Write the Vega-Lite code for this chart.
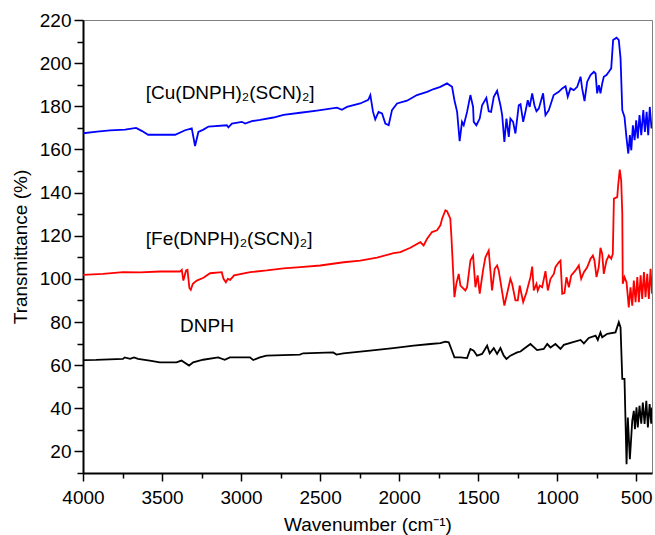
{
  "$schema": "https://vega.github.io/schema/vega-lite/v6.json",
  "width": 569,
  "height": 453,
  "autosize": {"type": "none"},
  "padding": {"left": 83, "top": 20, "right": 3, "bottom": 62},
  "background": "white",
  "config": {"view": {"stroke": "#808080", "strokeWidth": 1}, "font": "Liberation Sans"},
  "datasets": {
    "spectra": [
      {"s":"Cu","wn":4000,"t":167.5},{"s":"Cu","wn":3911,"t":168.3},{"s":"Cu","wn":3829,"t":168.8},{"s":"Cu","wn":3734,"t":169.2},{"s":"Cu","wn":3664,"t":170},{"s":"Cu","wn":3626,"t":168.5},{"s":"Cu","wn":3588,"t":166.8},{"s":"Cu","wn":3417,"t":166.8},{"s":"Cu","wn":3354,"t":168.9},{"s":"Cu","wn":3312,"t":169.8},{"s":"Cu","wn":3291,"t":161.6},{"s":"Cu","wn":3270,"t":168.1},{"s":"Cu","wn":3238,"t":169.2},{"s":"Cu","wn":3206,"t":170.6},{"s":"Cu","wn":3090,"t":171.2},{"s":"Cu","wn":3080,"t":170.2},{"s":"Cu","wn":3058,"t":172},{"s":"Cu","wn":2995,"t":172.8},{"s":"Cu","wn":2974,"t":172},{"s":"Cu","wn":2932,"t":173.1},{"s":"Cu","wn":2879,"t":173.7},{"s":"Cu","wn":2795,"t":174.8},{"s":"Cu","wn":2731,"t":176},{"s":"Cu","wn":2626,"t":177},{"s":"Cu","wn":2520,"t":178},{"s":"Cu","wn":2393,"t":179.4},{"s":"Cu","wn":2362,"t":178.4},{"s":"Cu","wn":2330,"t":179.7},{"s":"Cu","wn":2246,"t":181.3},{"s":"Cu","wn":2195,"t":183},{"s":"Cu","wn":2182,"t":185.2},{"s":"Cu","wn":2165,"t":177.4},{"s":"Cu","wn":2151,"t":173.9},{"s":"Cu","wn":2130,"t":177.4},{"s":"Cu","wn":2108,"t":176.7},{"s":"Cu","wn":2087,"t":172},{"s":"Cu","wn":2066,"t":171.2},{"s":"Cu","wn":2045,"t":178.2},{"s":"Cu","wn":2013,"t":181.3},{"s":"Cu","wn":1950,"t":182.6},{"s":"Cu","wn":1887,"t":185.2},{"s":"Cu","wn":1823,"t":186.7},{"s":"Cu","wn":1781,"t":188},{"s":"Cu","wn":1739,"t":189},{"s":"Cu","wn":1697,"t":190.6},{"s":"Cu","wn":1665,"t":189},{"s":"Cu","wn":1650,"t":182.8},{"s":"Cu","wn":1633,"t":177.4},{"s":"Cu","wn":1617,"t":163.8},{"s":"Cu","wn":1602,"t":172.8},{"s":"Cu","wn":1591,"t":171.2},{"s":"Cu","wn":1570,"t":177.4},{"s":"Cu","wn":1549,"t":185.2},{"s":"Cu","wn":1532,"t":179.7},{"s":"Cu","wn":1528,"t":172.8},{"s":"Cu","wn":1511,"t":171.2},{"s":"Cu","wn":1490,"t":174.3},{"s":"Cu","wn":1475,"t":180.5},{"s":"Cu","wn":1448,"t":183.9},{"s":"Cu","wn":1433,"t":177.7},{"s":"Cu","wn":1418,"t":177.4},{"s":"Cu","wn":1401,"t":184.4},{"s":"Cu","wn":1380,"t":187.2},{"s":"Cu","wn":1359,"t":180.5},{"s":"Cu","wn":1348,"t":175.9},{"s":"Cu","wn":1334,"t":163.5},{"s":"Cu","wn":1321,"t":174.3},{"s":"Cu","wn":1306,"t":165.8},{"s":"Cu","wn":1296,"t":174.3},{"s":"Cu","wn":1279,"t":172.8},{"s":"Cu","wn":1264,"t":167.4},{"s":"Cu","wn":1243,"t":180.5},{"s":"Cu","wn":1232,"t":181},{"s":"Cu","wn":1215,"t":172.8},{"s":"Cu","wn":1201,"t":177.4},{"s":"Cu","wn":1186,"t":182.8},{"s":"Cu","wn":1174,"t":179.7},{"s":"Cu","wn":1158,"t":186},{"s":"Cu","wn":1144,"t":180.5},{"s":"Cu","wn":1131,"t":177.7},{"s":"Cu","wn":1116,"t":179},{"s":"Cu","wn":1089,"t":186},{"s":"Cu","wn":1074,"t":175.9},{"s":"Cu","wn":1053,"t":178.2},{"s":"Cu","wn":1022,"t":185.2},{"s":"Cu","wn":990,"t":186.7},{"s":"Cu","wn":968,"t":188.3},{"s":"Cu","wn":947,"t":189.3},{"s":"Cu","wn":933,"t":184.4},{"s":"Cu","wn":916,"t":188.3},{"s":"Cu","wn":895,"t":187.5},{"s":"Cu","wn":873,"t":189},{"s":"Cu","wn":852,"t":193.7},{"s":"Cu","wn":842,"t":188.3},{"s":"Cu","wn":827,"t":182.4},{"s":"Cu","wn":810,"t":191.4},{"s":"Cu","wn":789,"t":194.5},{"s":"Cu","wn":768,"t":196},{"s":"Cu","wn":757,"t":195.2},{"s":"Cu","wn":747,"t":186},{"s":"Cu","wn":736,"t":189.8},{"s":"Cu","wn":726,"t":186},{"s":"Cu","wn":715,"t":190.6},{"s":"Cu","wn":705,"t":193.7},{"s":"Cu","wn":688,"t":194.5},{"s":"Cu","wn":673,"t":196},{"s":"Cu","wn":658,"t":197.6},{"s":"Cu","wn":646,"t":210.7},{"s":"Cu","wn":624,"t":211.8},{"s":"Cu","wn":610,"t":210.7},{"s":"Cu","wn":599,"t":202.2},{"s":"Cu","wn":588,"t":178.2},{"s":"Cu","wn":574,"t":175.1},{"s":"Cu","wn":561,"t":165.1},{"s":"Cu","wn":550,"t":158.1},{"s":"Cu","wn":540,"t":166.6},{"s":"Cu","wn":531,"t":159.6},{"s":"Cu","wn":521,"t":171.2},{"s":"Cu","wn":510,"t":164.3},{"s":"Cu","wn":500,"t":173.5},{"s":"Cu","wn":490,"t":165.1},{"s":"Cu","wn":479,"t":175.9},{"s":"Cu","wn":468,"t":166.6},{"s":"Cu","wn":455,"t":178.2},{"s":"Cu","wn":445,"t":168.1},{"s":"Cu","wn":434,"t":177.4},{"s":"Cu","wn":424,"t":166.6},{"s":"Cu","wn":414,"t":179.7},{"s":"Cu","wn":403,"t":169.7},{"s":"Cu","wn":400,"t":172},
      {"s":"Fe","wn":4000,"t":101.8},{"s":"Fe","wn":3873,"t":102.3},{"s":"Fe","wn":3747,"t":103.1},{"s":"Fe","wn":3639,"t":103},{"s":"Fe","wn":3512,"t":103.4},{"s":"Fe","wn":3386,"t":103.4},{"s":"Fe","wn":3375,"t":104.2},{"s":"Fe","wn":3365,"t":99.2},{"s":"Fe","wn":3348,"t":103.9},{"s":"Fe","wn":3339,"t":104.2},{"s":"Fe","wn":3327,"t":95.8},{"s":"Fe","wn":3318,"t":94.9},{"s":"Fe","wn":3305,"t":97.7},{"s":"Fe","wn":3280,"t":99.2},{"s":"Fe","wn":3238,"t":100.5},{"s":"Fe","wn":3196,"t":102.6},{"s":"Fe","wn":3122,"t":103.1},{"s":"Fe","wn":3111,"t":100},{"s":"Fe","wn":3096,"t":98.4},{"s":"Fe","wn":3084,"t":100},{"s":"Fe","wn":3069,"t":99.5},{"s":"Fe","wn":3044,"t":101.6},{"s":"Fe","wn":2942,"t":103.1},{"s":"Fe","wn":2837,"t":103.9},{"s":"Fe","wn":2731,"t":104.9},{"s":"Fe","wn":2626,"t":105.4},{"s":"Fe","wn":2499,"t":106.2},{"s":"Fe","wn":2351,"t":107.7},{"s":"Fe","wn":2246,"t":108.5},{"s":"Fe","wn":2140,"t":109.8},{"s":"Fe","wn":2035,"t":111.9},{"s":"Fe","wn":1992,"t":112.4},{"s":"Fe","wn":1929,"t":114.4},{"s":"Fe","wn":1866,"t":117},{"s":"Fe","wn":1845,"t":115.5},{"s":"Fe","wn":1823,"t":118.6},{"s":"Fe","wn":1792,"t":121.7},{"s":"Fe","wn":1760,"t":122.5},{"s":"Fe","wn":1739,"t":124.8},{"s":"Fe","wn":1728,"t":127.9},{"s":"Fe","wn":1707,"t":131.8},{"s":"Fe","wn":1697,"t":131.4},{"s":"Fe","wn":1676,"t":127.9},{"s":"Fe","wn":1669,"t":119.4},{"s":"Fe","wn":1650,"t":91.5},{"s":"Fe","wn":1638,"t":97.7},{"s":"Fe","wn":1623,"t":102.3},{"s":"Fe","wn":1612,"t":96.9},{"s":"Fe","wn":1581,"t":94.6},{"s":"Fe","wn":1570,"t":96.1},{"s":"Fe","wn":1549,"t":108.5},{"s":"Fe","wn":1532,"t":110.8},{"s":"Fe","wn":1517,"t":96.1},{"s":"Fe","wn":1503,"t":101.6},{"s":"Fe","wn":1490,"t":93.1},{"s":"Fe","wn":1469,"t":103.9},{"s":"Fe","wn":1454,"t":110},{"s":"Fe","wn":1433,"t":113.1},{"s":"Fe","wn":1412,"t":94.6},{"s":"Fe","wn":1395,"t":104.7},{"s":"Fe","wn":1380,"t":106.2},{"s":"Fe","wn":1370,"t":103.9},{"s":"Fe","wn":1348,"t":93.8},{"s":"Fe","wn":1334,"t":87.6},{"s":"Fe","wn":1317,"t":93.1},{"s":"Fe","wn":1296,"t":100},{"s":"Fe","wn":1285,"t":97.7},{"s":"Fe","wn":1264,"t":90},{"s":"Fe","wn":1249,"t":90},{"s":"Fe","wn":1237,"t":96.9},{"s":"Fe","wn":1215,"t":89.2},{"s":"Fe","wn":1194,"t":93.8},{"s":"Fe","wn":1186,"t":96.1},{"s":"Fe","wn":1169,"t":100.8},{"s":"Fe","wn":1158,"t":105.7},{"s":"Fe","wn":1148,"t":94.6},{"s":"Fe","wn":1131,"t":97.7},{"s":"Fe","wn":1123,"t":94.6},{"s":"Fe","wn":1110,"t":96.9},{"s":"Fe","wn":1095,"t":96.1},{"s":"Fe","wn":1074,"t":103.6},{"s":"Fe","wn":1059,"t":94.6},{"s":"Fe","wn":1042,"t":100},{"s":"Fe","wn":1021,"t":102.3},{"s":"Fe","wn":1011,"t":105.4},{"s":"Fe","wn":990,"t":107.7},{"s":"Fe","wn":979,"t":108.5},{"s":"Fe","wn":968,"t":93.1},{"s":"Fe","wn":954,"t":93.4},{"s":"Fe","wn":941,"t":100.8},{"s":"Fe","wn":926,"t":96.1},{"s":"Fe","wn":911,"t":101.6},{"s":"Fe","wn":884,"t":103.9},{"s":"Fe","wn":863,"t":106.2},{"s":"Fe","wn":848,"t":100},{"s":"Fe","wn":831,"t":103.1},{"s":"Fe","wn":810,"t":105.4},{"s":"Fe","wn":789,"t":109.3},{"s":"Fe","wn":774,"t":110.8},{"s":"Fe","wn":764,"t":108.5},{"s":"Fe","wn":751,"t":100.8},{"s":"Fe","wn":737,"t":105.4},{"s":"Fe","wn":726,"t":114.4},{"s":"Fe","wn":715,"t":111.6},{"s":"Fe","wn":705,"t":102.3},{"s":"Fe","wn":688,"t":108.5},{"s":"Fe","wn":673,"t":110.8},{"s":"Fe","wn":658,"t":109.3},{"s":"Fe","wn":648,"t":111.6},{"s":"Fe","wn":641,"t":137.2},{"s":"Fe","wn":620,"t":137.9},{"s":"Fe","wn":614,"t":143.4},{"s":"Fe","wn":604,"t":150.6},{"s":"Fe","wn":595,"t":145.7},{"s":"Fe","wn":588,"t":130.2},{"s":"Fe","wn":585,"t":97.7},{"s":"Fe","wn":574,"t":100.8},{"s":"Fe","wn":561,"t":98.4},{"s":"Fe","wn":547,"t":86.8},{"s":"Fe","wn":536,"t":96.1},{"s":"Fe","wn":525,"t":87.6},{"s":"Fe","wn":515,"t":99.2},{"s":"Fe","wn":504,"t":89.2},{"s":"Fe","wn":493,"t":100.8},{"s":"Fe","wn":483,"t":89.2},{"s":"Fe","wn":472,"t":101.6},{"s":"Fe","wn":462,"t":90.7},{"s":"Fe","wn":451,"t":103.1},{"s":"Fe","wn":441,"t":91.5},{"s":"Fe","wn":430,"t":102.3},{"s":"Fe","wn":420,"t":90.7},{"s":"Fe","wn":409,"t":104.7},{"s":"Fe","wn":400,"t":93.1},
      {"s":"DNPH","wn":4000,"t":62.3},{"s":"DNPH","wn":3918,"t":62.4},{"s":"DNPH","wn":3747,"t":62.9},{"s":"DNPH","wn":3736,"t":63.6},{"s":"DNPH","wn":3702,"t":62.9},{"s":"DNPH","wn":3677,"t":63.6},{"s":"DNPH","wn":3652,"t":62.9},{"s":"DNPH","wn":3578,"t":62.1},{"s":"DNPH","wn":3514,"t":61.3},{"s":"DNPH","wn":3409,"t":61.3},{"s":"DNPH","wn":3377,"t":62.1},{"s":"DNPH","wn":3329,"t":59.8},{"s":"DNPH","wn":3303,"t":61.3},{"s":"DNPH","wn":3240,"t":62.5},{"s":"DNPH","wn":3145,"t":63.6},{"s":"DNPH","wn":3103,"t":62.5},{"s":"DNPH","wn":3071,"t":63.6},{"s":"DNPH","wn":2944,"t":63.6},{"s":"DNPH","wn":2923,"t":62.4},{"s":"DNPH","wn":2881,"t":63.6},{"s":"DNPH","wn":2839,"t":64.4},{"s":"DNPH","wn":2628,"t":64.9},{"s":"DNPH","wn":2607,"t":65.5},{"s":"DNPH","wn":2417,"t":65.9},{"s":"DNPH","wn":2396,"t":64.9},{"s":"DNPH","wn":2353,"t":65.5},{"s":"DNPH","wn":2184,"t":66.7},{"s":"DNPH","wn":2037,"t":67.9},{"s":"DNPH","wn":1908,"t":69},{"s":"DNPH","wn":1802,"t":69.8},{"s":"DNPH","wn":1739,"t":70.2},{"s":"DNPH","wn":1707,"t":70.9},{"s":"DNPH","wn":1686,"t":70.6},{"s":"DNPH","wn":1650,"t":63.6},{"s":"DNPH","wn":1612,"t":63.6},{"s":"DNPH","wn":1570,"t":63.3},{"s":"DNPH","wn":1549,"t":67.5},{"s":"DNPH","wn":1528,"t":66.7},{"s":"DNPH","wn":1507,"t":64.4},{"s":"DNPH","wn":1475,"t":65.2},{"s":"DNPH","wn":1443,"t":69},{"s":"DNPH","wn":1427,"t":65.5},{"s":"DNPH","wn":1401,"t":67.9},{"s":"DNPH","wn":1380,"t":65.2},{"s":"DNPH","wn":1359,"t":67.9},{"s":"DNPH","wn":1338,"t":64.4},{"s":"DNPH","wn":1321,"t":62.9},{"s":"DNPH","wn":1296,"t":64.4},{"s":"DNPH","wn":1253,"t":65.9},{"s":"DNPH","wn":1232,"t":66.3},{"s":"DNPH","wn":1212,"t":67.5},{"s":"DNPH","wn":1169,"t":69.8},{"s":"DNPH","wn":1127,"t":67},{"s":"DNPH","wn":1085,"t":67.5},{"s":"DNPH","wn":1063,"t":69.8},{"s":"DNPH","wn":1042,"t":68.2},{"s":"DNPH","wn":1011,"t":69.8},{"s":"DNPH","wn":979,"t":67.5},{"s":"DNPH","wn":958,"t":69.4},{"s":"DNPH","wn":905,"t":70.6},{"s":"DNPH","wn":852,"t":71.7},{"s":"DNPH","wn":831,"t":70.1},{"s":"DNPH","wn":800,"t":72.6},{"s":"DNPH","wn":757,"t":73.7},{"s":"DNPH","wn":743,"t":71.7},{"s":"DNPH","wn":726,"t":75.2},{"s":"DNPH","wn":715,"t":72.9},{"s":"DNPH","wn":683,"t":74.5},{"s":"DNPH","wn":631,"t":75.2},{"s":"DNPH","wn":610,"t":79.9},{"s":"DNPH","wn":599,"t":77.5},{"s":"DNPH","wn":588,"t":53.6},{"s":"DNPH","wn":574,"t":53.6},{"s":"DNPH","wn":561,"t":14.1},{"s":"DNPH","wn":553,"t":35.7},{"s":"DNPH","wn":540,"t":16.4},{"s":"DNPH","wn":525,"t":34.2},{"s":"DNPH","wn":515,"t":38.8},{"s":"DNPH","wn":508,"t":30.3},{"s":"DNPH","wn":498,"t":40.4},{"s":"DNPH","wn":490,"t":31.1},{"s":"DNPH","wn":479,"t":41.2},{"s":"DNPH","wn":468,"t":32.9},{"s":"DNPH","wn":458,"t":42.7},{"s":"DNPH","wn":447,"t":32.7},{"s":"DNPH","wn":436,"t":43.5},{"s":"DNPH","wn":426,"t":31.1},{"s":"DNPH","wn":415,"t":42},{"s":"DNPH","wn":405,"t":32.9},{"s":"DNPH","wn":400,"t":40.4}
    ],
    "labels": [
      {"wn":3603,"t":186.1,"label":"[Cu(DNPH)₂(SCN)₂]"},
      {"wn":3603,"t":118.5,"label":"[Fe(DNPH)₂(SCN)₂]"},
      {"wn":3386,"t":78.3,"label":"DNPH"}
    ]
  },
  "layer": [
    {
      "data": {"name": "spectra"},
      "mark": {"type": "line", "strokeWidth": 1.8, "clip": true},
      "encoding": {
        "x": {
          "field": "wn", "type": "quantitative",
          "scale": {"domain": [400, 4000], "reverse": true, "nice": false, "zero": false},
          "axis": {
            "title": "Wavenumber (cm⁻¹)",
            "values": [4000,3750,3500,3250,3000,2750,2500,2250,2000,1750,1500,1250,1000,750,500],
            "tickCount": 100,
            "format": "d",
            "labelExpr": "datum.value % 500 === 0 ? datum.label : ''",
            "tickSize": 8,
            "tickDash": {"condition": {"test": "datum.value % 500 !== 0", "value": [5, 20]}, "value": [20, 0]},
            "tickColor": "black", "tickWidth": 1.5,
            "domainColor": "black", "domainWidth": 2,
            "labelFont": "Liberation Sans", "labelFontSize": 19, "labelColor": "black",
            "labelFlush": false, "labelOverlap": false, "labelPadding": 7,
            "titleFont": "Liberation Sans", "titleFontSize": 19, "titleFontWeight": "normal", "titleColor": "black",
            "titlePadding": 8, "grid": false
          }
        },
        "y": {
          "field": "t", "type": "quantitative",
          "scale": {"domain": [10, 220], "nice": false, "zero": false},
          "axis": {
            "title": "Transmittance (%)",
            "values": [10,20,30,40,50,60,70,80,90,100,110,120,130,140,150,160,170,180,190,200,210,220],
            "tickCount": 100,
            "format": "d",
            "labelExpr": "datum.value % 20 === 0 ? datum.label : ''",
            "tickSize": 9,
            "tickDash": {"condition": {"test": "datum.value % 20 !== 0", "value": [6, 20]}, "value": [20, 0]},
            "tickColor": "black", "tickWidth": 1.5,
            "domainColor": "black", "domainWidth": 2,
            "labelFont": "Liberation Sans", "labelFontSize": 19, "labelColor": "black",
            "labelFlush": false, "labelOverlap": false, "labelPadding": 3,
            "titleFont": "Liberation Sans", "titleFontSize": 19, "titleFontWeight": "normal", "titleColor": "black",
            "titlePadding": 9, "grid": false
          }
        },
        "color": {
          "field": "s", "type": "nominal",
          "scale": {"domain": ["Cu", "Fe", "DNPH"], "range": ["#0000ff", "#ff0000", "#000000"]},
          "legend": null
        }
      }
    },
    {
      "data": {"name": "labels"},
      "mark": {"type": "text", "align": "left", "baseline": "middle", "font": "Liberation Sans", "fontSize": 19, "color": "black"},
      "encoding": {
        "x": {"field": "wn", "type": "quantitative"},
        "y": {"field": "t", "type": "quantitative"},
        "text": {"field": "label"}
      }
    }
  ]
}
